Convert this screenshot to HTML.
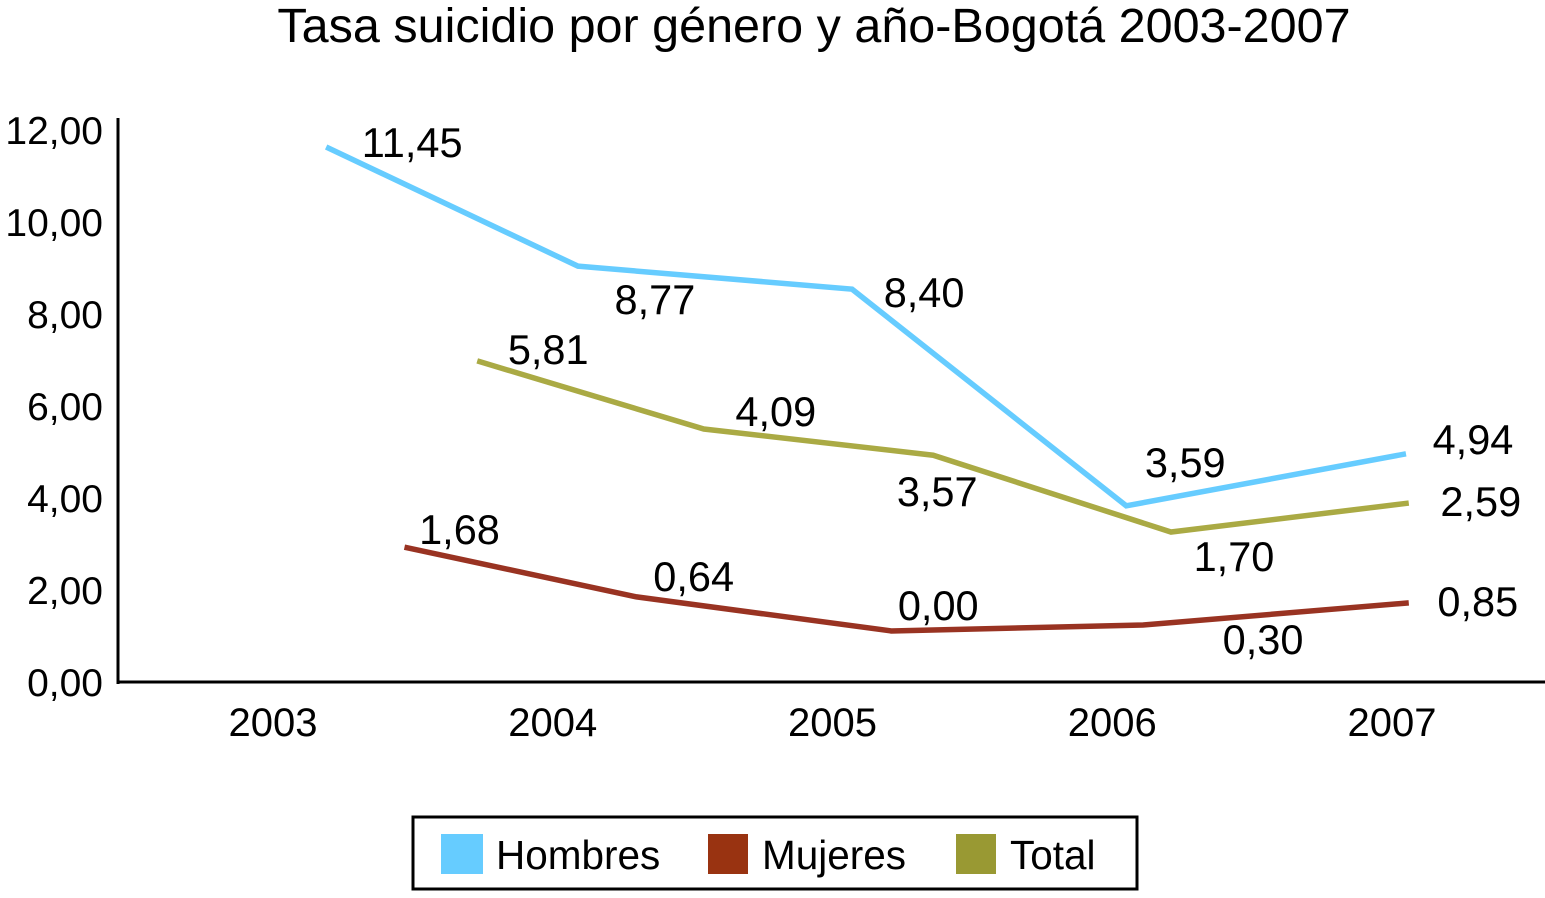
<!DOCTYPE html>
<html><head><meta charset="utf-8"><style>
body{margin:0;background:#fff;}
svg text{font-family:"Liberation Sans",Arial,sans-serif;fill:#000;}
</style></head><body>
<svg id="chart" width="1545" height="893" xmlns="http://www.w3.org/2000/svg">
<text x="814" y="42" font-size="48.5" text-anchor="middle">Tasa suicidio por género y año-Bogotá 2003-2007</text>
<g id="axes"></g>
<g id="series"></g>
<g>
<rect x="413" y="817" width="724" height="72" fill="#fff" stroke="#000" stroke-width="3"/>
<rect x="441" y="834" width="42" height="40" fill="#66ccff"/>
<text x="496" y="869" font-size="40.5">Hombres</text>
<rect x="708" y="834" width="40" height="40" fill="#993311"/>
<text x="762" y="869" font-size="40.5">Mujeres</text>
<rect x="956" y="834" width="40" height="40" fill="#999933"/>
<text x="1010" y="869" font-size="40.5">Total</text>
</g>
</svg>
<script>
const years=[2003,2004,2005,2006,2007];
const yTicks=[0,2,4,6,8,10,12];
const hombresX=[2003.19,2004.09,2005.07,2006.05,2007.05];
const hombresY=[11.63,9.04,8.54,3.83,4.96];
const hombresLabels=["11,45","8,77","8,40","3,59","4,94"];
const mujeresX=[2003.47,2004.30,2005.21,2006.11,2007.06];
const mujeresY=[2.93,1.85,1.11,1.24,1.72];
const mujeresLabels=["1,68","0,64","0,00","0,30","0,85"];
const totalX=[2003.73,2004.54,2005.36,2006.21,2007.06];
const totalY=[6.98,5.50,4.93,3.26,3.89];
const totalLabels=["5,81","4,09","3,57","1,70","2,59"];
// label offsets (pixels) relative to each point
const hombresOff=[[86,-4],[77,34],[72,4],[59,-43],[67,-14]];
const mujeresOff=[[55,-17],[57,-20],[47,-25],[120,15],[69,-1]];
const totalOff=[[71,-11],[72,-17],[4,37],[63,25],[72,-1]];
const NS="http://www.w3.org/2000/svg";
const xs=y=>273+(y-2003)*279.75;
const ys=v=>682-v*46;
function mk(t,a,p){const e=document.createElementNS(NS,t);for(const k in a)e.setAttribute(k,a[k]);p.appendChild(e);return e;}
const ax=document.getElementById('axes');
let l=mk('line',{x1:118,y1:118,x2:118,y2:684,stroke:'#000','stroke-width':3},ax);


l=mk('line',{x1:117,y1:682,x2:1545,y2:682,stroke:'#000','stroke-width':3},ax);


yTicks.forEach(v=>{const t=mk('text',{x:103,y:ys(v)+14,'font-size':39,'text-anchor':'end'},ax);t.textContent=v.toFixed(2).replace('.',',');

});
years.forEach(y=>{const t=mk('text',{x:xs(y),y:736,'font-size':40,'text-anchor':'middle'},ax);t.textContent=y;

});
const sg=document.getElementById('series');
function series(name,X,Y,labs,off,col){
 const p=mk('polyline',{points:X.map((x,i)=>xs(x)+','+ys(Y[i])).join(' '),fill:'none',stroke:col,'stroke-width':5.5},sg);
 
 
 X.forEach((x,i)=>{const t=mk('text',{x:xs(x)+off[i][0],y:ys(Y[i])+off[i][1]+14,'font-size':41.5,'text-anchor':'middle'},sg);t.textContent=labs[i];
 
 });
}
series('hombres',hombresX,hombresY,hombresLabels,hombresOff,'#66ccff');
series('total',totalX,totalY,totalLabels,totalOff,'#aaaa44');
series('mujeres',mujeresX,mujeresY,mujeresLabels,mujeresOff,'#993322');
</script>
</body></html>
